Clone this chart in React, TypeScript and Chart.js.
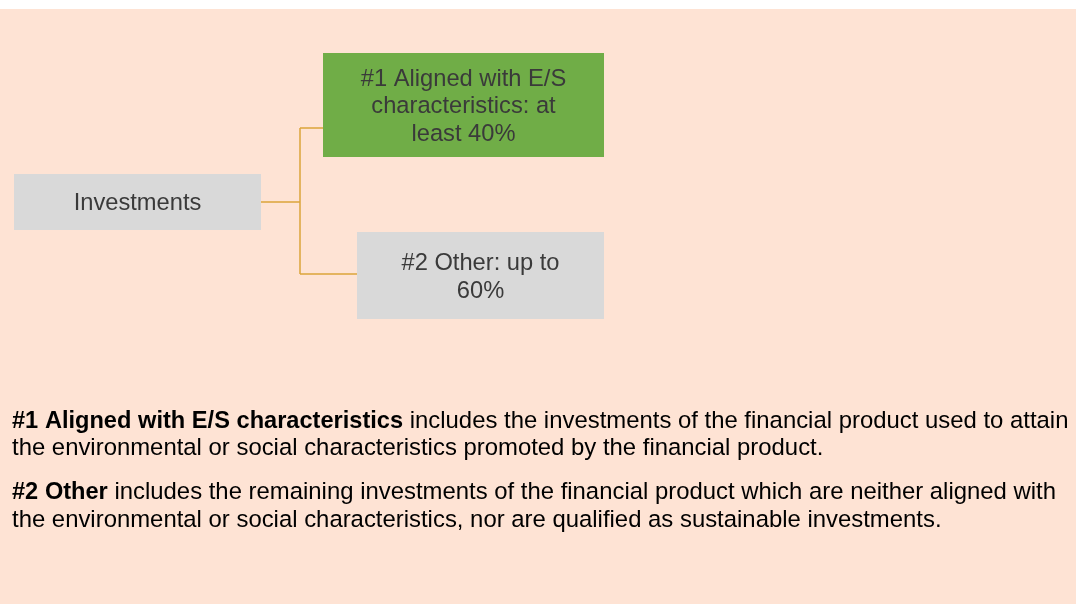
import React, { useEffect, useRef } from "react";
import { Chart, registerables } from "chart.js";

Chart.register(...registerables);

// ---- Data ----
const rootLabel = "Investments";
const branchNames = ["#1 Aligned with E/S characteristics", "#2 Other"];
const branchQualifiers = ["at least", "up to"];
const branchShares = [40, 60];
const noteTerms = ["#1 Aligned with E/S characteristics", "#2 Other"];
const noteBodies = [
  "includes the investments of the financial product used to attain the environmental or social characteristics promoted by the financial product.",
  "includes the remaining investments of the financial product which are neither aligned with the environmental or social characteristics, nor are qualified as sustainable investments.",
];

// ---- Layout & style (not data) ----
const W = 1078;
const H = 605;
const layout = {
  panel: { x0: 0, x1: 1076, y0: 9, y1: 604 },
  root: { x0: 14, x1: 261, y0: 174, y1: 230 },
  branches: [
    { x0: 323, x1: 604, y0: 53, y1: 157, linkY: 128 },
    { x0: 357, x1: 604, y0: 232, y1: 319, linkY: 274 },
  ],
  trunkX: 300,
  boxPad: 30,
  boxLineH: 27.8,
  notes: { x: 12, maxX: 1075, firstBaseline: 428, lineH: 27.3, paraGap: 44 },
};
const colors = {
  panel: "#FEE3D4",
  rootFill: "#D9D9D9",
  branchFills: ["#70AD47", "#D9D9D9"],
  boxText: "#3A3A3A",
  link: "#DBA53A",
  noteText: "#000000",
};
const FONT = '"Liberation Sans", Arial, sans-serif';
const boxFontSize = 23.7;
const noteFontSize = 23.9;
const noteBoldFontSize = 23.6;

function wrapWords(ctx: CanvasRenderingContext2D, text: string, maxW: number): string[] {
  const words = text.split(" ");
  const lines: string[] = [];
  let cur = "";
  for (const w of words) {
    const trial = cur ? cur + " " + w : w;
    if (cur && ctx.measureText(trial).width > maxW) {
      lines.push(cur);
      cur = w;
    } else cur = trial;
  }
  if (cur) lines.push(cur);
  return lines;
}

const diagramPlugin = {
  id: "diagram",
  afterDraw(chart: any) {
    const ctx: CanvasRenderingContext2D = chart.ctx;
    const xs = chart.scales.x;
    const ys = chart.scales.y;
    const px = (v: number) => xs.getPixelForValue(v);
    const py = (v: number) => ys.getPixelForValue(v);
    ctx.save();

    const rect = (r: { x0: number; x1: number; y0: number; y1: number }, fill: string) => {
      ctx.fillStyle = fill;
      ctx.fillRect(px(r.x0), py(r.y0), px(r.x1) - px(r.x0), py(r.y1) - py(r.y0));
    };

    const boxText = (r: { x0: number; x1: number; y0: number; y1: number }, text: string) => {
      ctx.font = `${boxFontSize}px ${FONT}`;
      ctx.fillStyle = colors.boxText;
      ctx.textAlign = "center";
      ctx.textBaseline = "alphabetic";
      const maxW = px(r.x1) - px(r.x0) - 2 * layout.boxPad;
      const lines = wrapWords(ctx, text, maxW);
      const cx = (px(r.x0) + px(r.x1)) / 2;
      const cy = (py(r.y0) + py(r.y1)) / 2;
      const cap = boxFontSize * 0.716;
      const first = cy - ((lines.length - 1) * layout.boxLineH) / 2 + cap / 2;
      lines.forEach((l, i) => ctx.fillText(l, cx, first + i * layout.boxLineH));
    };

    // panel
    rect(layout.panel, colors.panel);

    // connectors
    ctx.strokeStyle = colors.link;
    ctx.lineWidth = 1.5;
    const rootMidY = (layout.root.y0 + layout.root.y1) / 2;
    ctx.beginPath();
    ctx.moveTo(px(layout.root.x1), py(rootMidY));
    ctx.lineTo(px(layout.trunkX), py(rootMidY));
    const linkYs = layout.branches.map((b) => b.linkY);
    ctx.moveTo(px(layout.trunkX), py(Math.min(...linkYs)));
    ctx.lineTo(px(layout.trunkX), py(Math.max(...linkYs)));
    layout.branches.forEach((b) => {
      ctx.moveTo(px(layout.trunkX), py(b.linkY));
      ctx.lineTo(px(b.x0), py(b.linkY));
    });
    ctx.stroke();

    // boxes
    rect(layout.root, colors.rootFill);
    boxText(layout.root, rootLabel);
    layout.branches.forEach((b, i) => {
      rect(b, colors.branchFills[i]);
      boxText(b, `${branchNames[i]}: ${branchQualifiers[i]} ${branchShares[i]}%`);
    });

    // notes
    const n = layout.notes;
    const maxW = px(n.maxX) - px(n.x);
    let baseline = py(n.firstBaseline);
    ctx.textAlign = "left";
    ctx.textBaseline = "alphabetic";
    ctx.fillStyle = colors.noteText;
    noteTerms.forEach((term, i) => {
      const tokens: { w: string; bold: boolean }[] = [];
      term.split(" ").forEach((w) => tokens.push({ w, bold: true }));
      noteBodies[i].split(" ").forEach((w) => tokens.push({ w, bold: false }));
      const setFont = (bold: boolean) => {
        ctx.font = bold ? `bold ${noteBoldFontSize}px ${FONT}` : `${noteFontSize}px ${FONT}`;
      };
      const lines: { w: string; bold: boolean; width: number }[][] = [[]];
      let curW = 0;
      setFont(false);
      const spaceW = ctx.measureText(" ").width;
      tokens.forEach((t) => {
        setFont(t.bold);
        const ww = ctx.measureText(t.w).width;
        const line = lines[lines.length - 1];
        const add = (line.length ? spaceW : 0) + ww;
        if (line.length && curW + add > maxW) {
          lines.push([{ ...t, width: ww }]);
          curW = ww;
        } else {
          line.push({ ...t, width: ww });
          curW += add;
        }
      });
      lines.forEach((line, li) => {
        let x = px(n.x);
        line.forEach((t, ti) => {
          if (ti) x += spaceW;
          setFont(t.bold);
          ctx.fillText(t.w, x, baseline);
          x += t.width;
        });
        if (li < lines.length - 1) baseline += n.lineH;
      });
      baseline += n.paraGap;
    });

    ctx.restore();
  },
};

export default function App() {
  const canvasRef = useRef<HTMLCanvasElement | null>(null);
  useEffect(() => {
    if (!canvasRef.current) return;
    const chart = new Chart(canvasRef.current, {
      type: "scatter",
      data: { datasets: [] },
      options: {
        responsive: false,
        animation: false,
        layout: { padding: 0 },
        plugins: { legend: { display: false }, tooltip: { enabled: false } },
        scales: {
          x: { type: "linear", min: 0, max: W, display: false },
          y: { type: "linear", min: 0, max: H, reverse: true, display: false },
        },
      },
      plugins: [diagramPlugin],
    });
    return () => chart.destroy();
  }, []);
  return (
    <div style={{ position: "absolute", left: 0, top: 0, width: W, height: H, background: "#ffffff" }}>
      <canvas ref={canvasRef} width={W} height={H} style={{ display: "block" }} />
    </div>
  );
}
